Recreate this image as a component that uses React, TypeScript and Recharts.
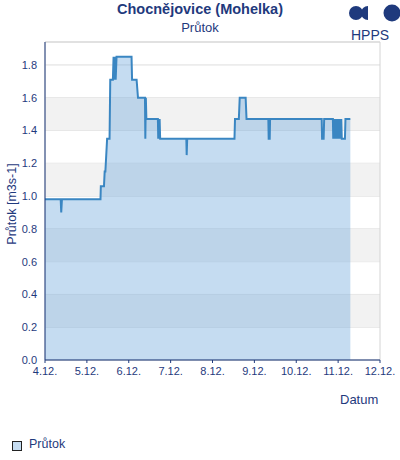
import React from 'react';
import { AreaChart, Area, XAxis, YAxis, CartesianGrid, ReferenceArea } from 'recharts';

// hours since 4.12. 00:00
const hours = [
  0, 9.0, 9.3, 9.7, 31.8, 32.0, 33.8, 34.2, 34.6, 35.6, 37.0, 37.4, 38.9, 39.3, 39.7, 40.1, 40.5, 41.0,
  49.6, 49.9, 52.5, 53.3, 57.3, 57.5, 57.8, 58.1, 64.7, 64.9, 65.2, 65.4, 65.7, 66.0,
  81.0, 81.2, 81.5, 108.6, 108.9, 109.7, 111.1, 111.6, 115.0, 115.5,
  128.0, 128.2, 128.8, 129.0, 158.6, 158.8, 159.7, 160.0,
  165.0, 165.2, 165.6, 165.9, 166.3, 166.6, 167.0, 167.3, 167.7, 168.0, 168.4, 168.7, 169.1, 169.4, 169.8, 170.1, 170.5,
  171.9, 172.2, 175.0,
];
const flow = [
  0.98, 0.98, 0.9, 0.98, 0.98, 1.06, 1.06, 1.15, 1.15, 1.35, 1.35, 1.71, 1.71, 1.85, 1.71, 1.85, 1.71, 1.85,
  1.85, 1.71, 1.71, 1.6, 1.6, 1.35, 1.6, 1.47, 1.47, 1.35, 1.47, 1.35, 1.47, 1.35,
  1.35, 1.25, 1.35, 1.35, 1.47, 1.47, 1.47, 1.6, 1.6, 1.47,
  1.47, 1.35, 1.35, 1.47, 1.47, 1.35, 1.35, 1.47,
  1.47, 1.35, 1.47, 1.35, 1.47, 1.35, 1.47, 1.35, 1.47, 1.35, 1.47, 1.35, 1.47, 1.35, 1.47, 1.35, 1.35,
  1.35, 1.47, 1.47,
];

const xTicks = [0, 24, 48, 72, 96, 120, 144, 168, 192];
const xLabels = ['4.12.', '5.12.', '6.12.', '7.12.', '8.12.', '9.12.', '10.12.', '11.12.', '12.12.'];
const yTicks = [0, 0.2, 0.4, 0.6, 0.8, 1.0, 1.2, 1.4, 1.6, 1.8];
const greyBands = [[0.2, 0.4], [0.6, 0.8], [1.0, 1.2], [1.4, 1.6]];

const data = hours.map((h, i) => ({ t: h, q: flow[i] }));

const NAVY = '#1f3a7d';
const FONT = '"Liberation Sans", Arial, sans-serif';

const App = () => {
  return (
    <div style={{ position: 'absolute', left: 0, top: 0, width: 400, height: 460, fontFamily: FONT, color: NAVY, background: '#fff' }}>
      <div style={{ position: 'absolute', left: 0, width: 400, top: 1, textAlign: 'center', fontWeight: 'bold', fontSize: 14.5 }}>
        Chocnějovice (Mohelka)
      </div>
      <div style={{ position: 'absolute', left: 0, width: 400, top: 20, textAlign: 'center', fontSize: 13 }}>
        Průtok
      </div>
      <svg style={{ position: 'absolute', left: 0, top: 0 }} width={400} height={30}>
        <circle cx={356} cy={13} r={7} fill={NAVY} />
        <path d="M368 6 A7 7 0 0 0 368 20 Z" fill={NAVY} />
        <circle cx={392} cy={13} r={8.5} fill={NAVY} />
      </svg>
      <div style={{ position: 'absolute', left: 348, width: 44, top: 27, textAlign: 'center', fontSize: 14 }}>
        HPPS
      </div>
      <div style={{ position: 'absolute', left: 0, top: 204, width: 0, height: 0 }}>
        <div style={{ position: 'absolute', transform: 'translate(-50%, -50%) rotate(-90deg)', left: 12, top: 0, whiteSpace: 'nowrap', fontSize: 12.5 }}>
          Průtok [m3s-1]
        </div>
      </div>
      <div style={{ position: 'absolute', left: 340, top: 392, fontSize: 13 }}>Datum</div>
      <div style={{ position: 'absolute', left: 12, top: 441, width: 8, height: 8, background: '#c5dcf1', border: '1px solid #222' }} />
      <div style={{ position: 'absolute', left: 29, top: 437, fontSize: 12.5 }}>Průtok</div>

      <AreaChart
        width={400}
        height={460}
        data={data}
        margin={{ top: 42, right: 20, left: 5, bottom: 70 }}
        style={{ position: 'absolute', left: 0, top: 0 }}
      >
        {greyBands.map(([a, b]) => (
          <ReferenceArea key={a} y1={a} y2={b} x1={0} x2={192} fill="#f2f2f2" fillOpacity={1} stroke="none" ifOverflow="hidden" />
        ))}
        <ReferenceArea y1={0} y2={1.94} x1={0} x2={192} fill="none" stroke="#d4d4d4" strokeWidth={1} />
        <CartesianGrid vertical={false} stroke="#dddddd" />
        <XAxis
          dataKey="t"
          type="number"
          domain={[0, 192]}
          ticks={xTicks}
          tickFormatter={(v) => xLabels[xTicks.indexOf(v)]}
          height={30}
          interval={0}
          tickSize={3}
          tickMargin={4}
          axisLine={{ stroke: NAVY }}
          tickLine={{ stroke: NAVY }}
          tick={{ fill: NAVY, fontSize: 11, fontFamily: FONT }}
        />
        <YAxis
          type="number"
          domain={[0, 1.94]}
          ticks={yTicks}
          allowDataOverflow
          width={40}
          tickFormatter={(v) => v.toFixed(1)}
          tickLine={false}
          axisLine={{ stroke: NAVY }}
          tick={{ fill: NAVY, fontSize: 11, fontFamily: FONT }}
        />
        <Area
          type="linear"
          dataKey="q"
          stroke="#3a86c2"
          strokeWidth={2}
          fill="#6fa8dc"
          fillOpacity={0.4}
          isAnimationActive={false}
          dot={false}
          activeDot={false}
        />
      </AreaChart>
    </div>
  );
};

export default App;
